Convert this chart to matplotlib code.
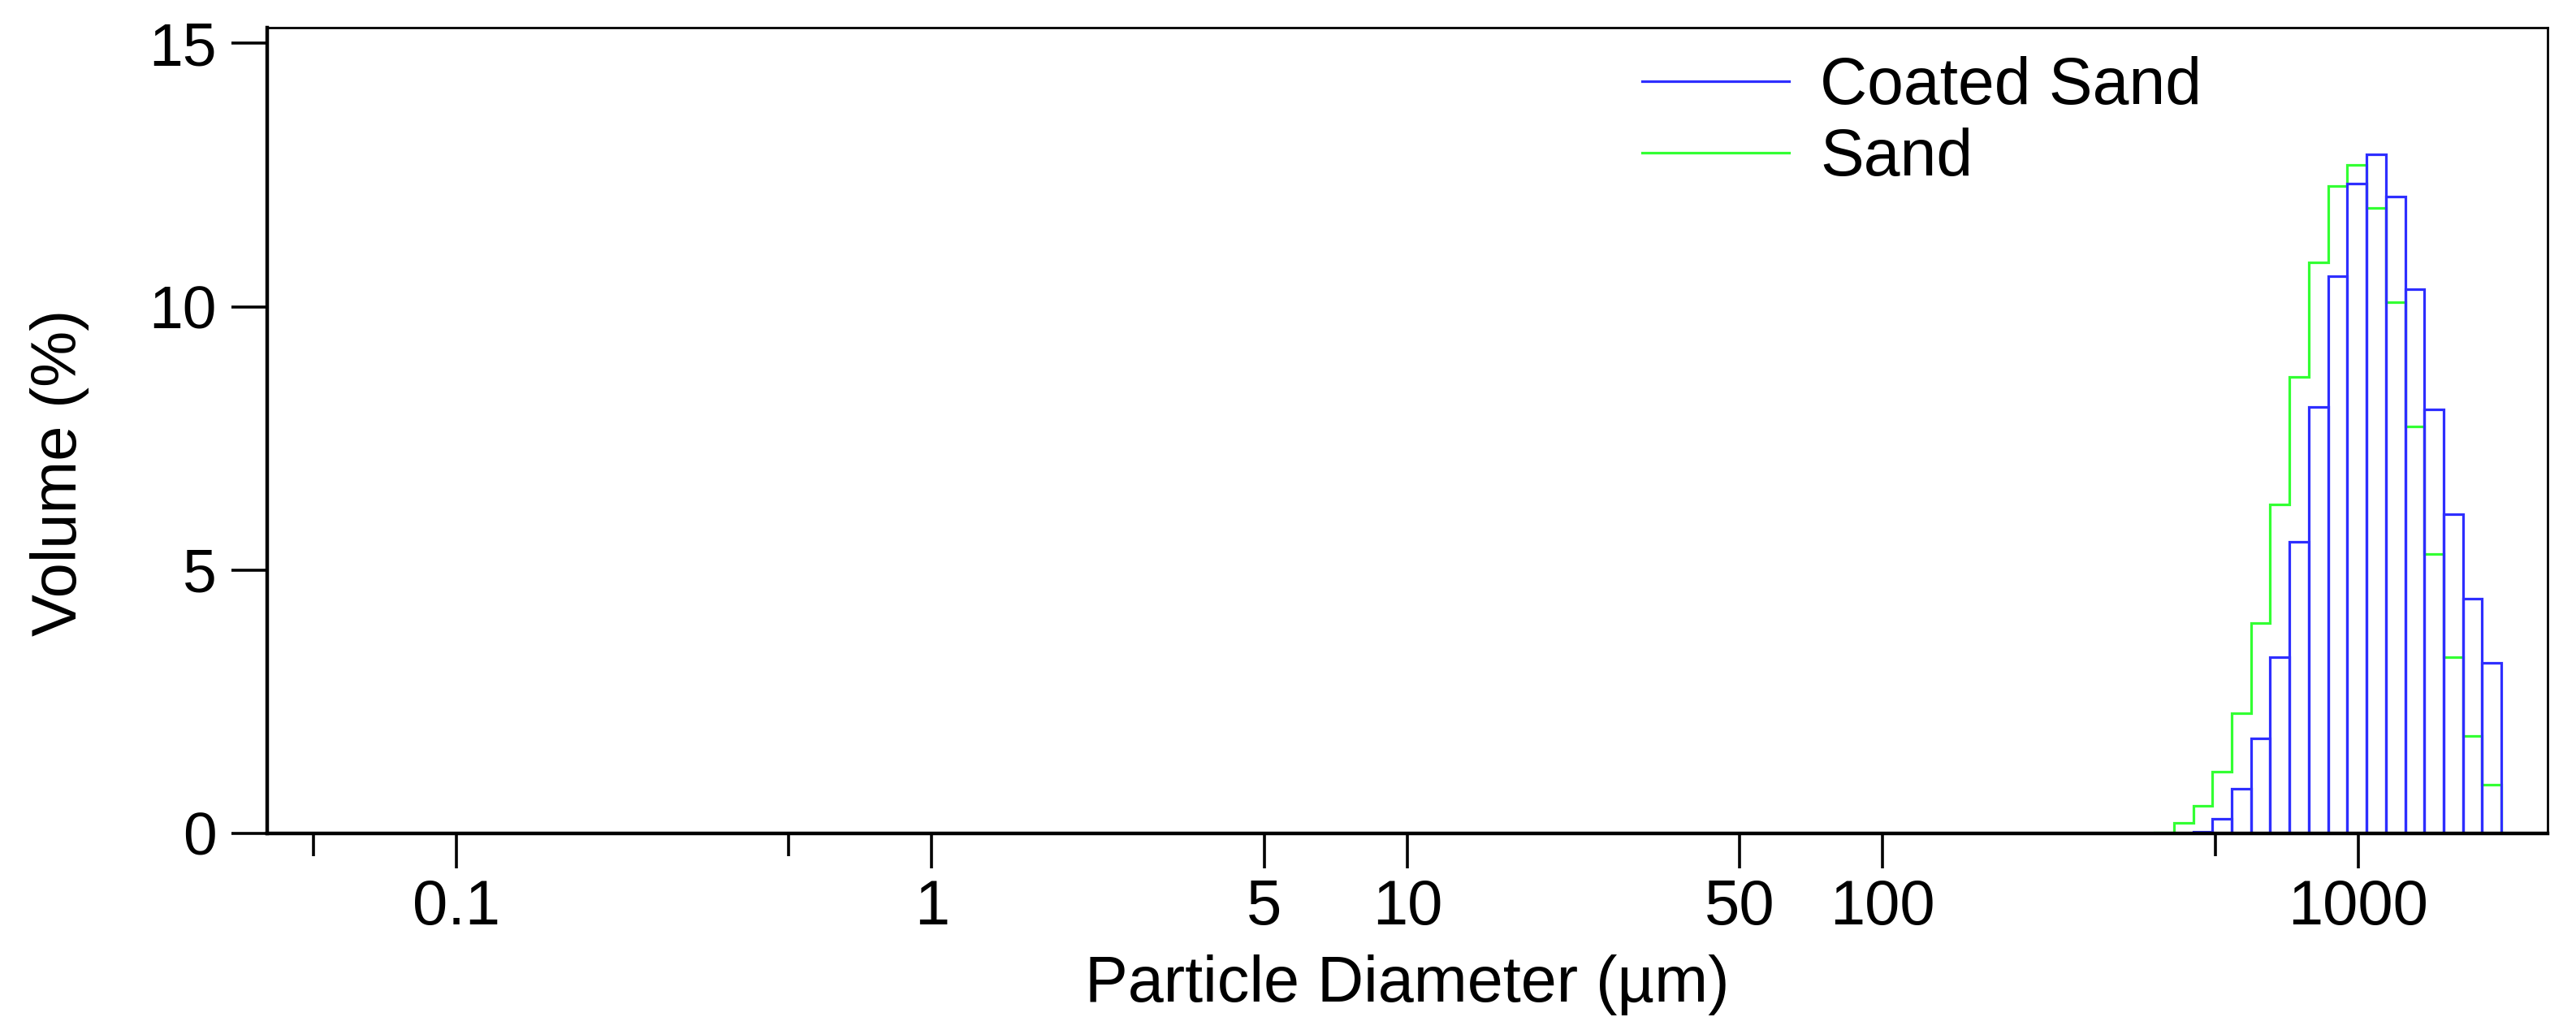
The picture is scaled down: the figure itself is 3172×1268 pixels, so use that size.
import matplotlib
matplotlib.use('Agg')
import matplotlib.pyplot as plt
from matplotlib.lines import Line2D
from matplotlib.ticker import NullFormatter

# ================================
# Data
# ================================
# channel edges in um (log spaced, last channel ends at 2000 um)
bin_edges = [373, 410, 450, 494, 542, 595, 653, 717, 787, 864,
             949, 1041, 1143, 1255, 1378, 1512, 1660, 1822, 2000]

coated_sand = [0.0, 0.0, 0.03, 0.28, 0.84, 1.81, 3.35, 5.53, 8.09, 10.58,
               12.34, 12.89, 12.09, 10.33, 8.05, 6.06, 4.45, 3.24]
sand = [0.02, 0.20, 0.53, 1.17, 2.28, 4.00, 6.24, 8.67, 10.84, 12.29,
        12.69, 11.87, 10.08, 7.72, 5.31, 3.35, 1.85, 0.92]

x_ticks = [0.1, 1, 5, 10, 50, 100, 1000]
x_tick_labels = ['0.1', '1', '5', '10', '50', '100', '1000']
x_minor_ticks = [0.05, 0.5, 500]
y_ticks = [0, 5, 10, 15]

BLUE = '#2e2eff'
GREEN = '#33ff33'

plt.rcParams['font.family'] = ['Liberation Sans', 'DejaVu Sans']

# ================================
# Plot
# ================================
fig = plt.figure(figsize=(31.72, 12.68), dpi=100)
ax = fig.add_axes([0.1037, 0.1909, 0.8852, 0.7823])

ax.stairs(sand, bin_edges, baseline=0, color=GREEN, linewidth=2.3)

left = [bin_edges[i] for i in range(len(coated_sand)) if coated_sand[i] > 0]
width = [bin_edges[i + 1] - bin_edges[i] for i in range(len(coated_sand)) if coated_sand[i] > 0]
heights = [v for v in coated_sand if v > 0]
ax.bar(left, heights, width=width, align='edge', fill=False,
       edgecolor=BLUE, linewidth=2.3)

ax.set_xscale('log')
ax.set_xlim(0.04, 2500)
ax.set_ylim(0, 15.3)

ax.set_xticks(x_ticks, labels=x_tick_labels)
ax.set_xticks(x_minor_ticks, minor=True)
ax.xaxis.set_minor_formatter(NullFormatter())
ax.set_yticks(y_ticks)

ax.tick_params(axis='x', which='major', direction='out', length=31, width=2.6,
               pad=9, labelsize=56)
ax.tick_params(axis='x', which='minor', direction='out', length=20, width=2.6)
ax.tick_params(axis='y', direction='out', length=32, width=2.6, pad=13,
               labelsize=54)

for side in ['left', 'bottom']:
    ax.spines[side].set_linewidth(3.2)
for side in ['top', 'right']:
    ax.spines[side].set_linewidth(2.0)

ax.set_xlabel('Particle Diameter (µm)', fontsize=57)
ax.xaxis.set_label_coords(0.5, -0.15)
ax.set_ylabel('Volume (%)', fontsize=56)
ax.yaxis.set_label_coords(-0.078, 0.448)

handles = [Line2D([], [], color=BLUE, linewidth=2.3),
           Line2D([], [], color=GREEN, linewidth=2.3)]
ax.legend(handles, ['Coated Sand', 'Sand'], loc='upper left',
          bbox_to_anchor=(0.603, 0.965), frameon=False, fontsize=58,
          borderpad=0, borderaxespad=0, handlelength=2.25,
          handletextpad=0.47, labelspacing=0.15)

fig.savefig('out.png', dpi=100)
plt.close(fig)
